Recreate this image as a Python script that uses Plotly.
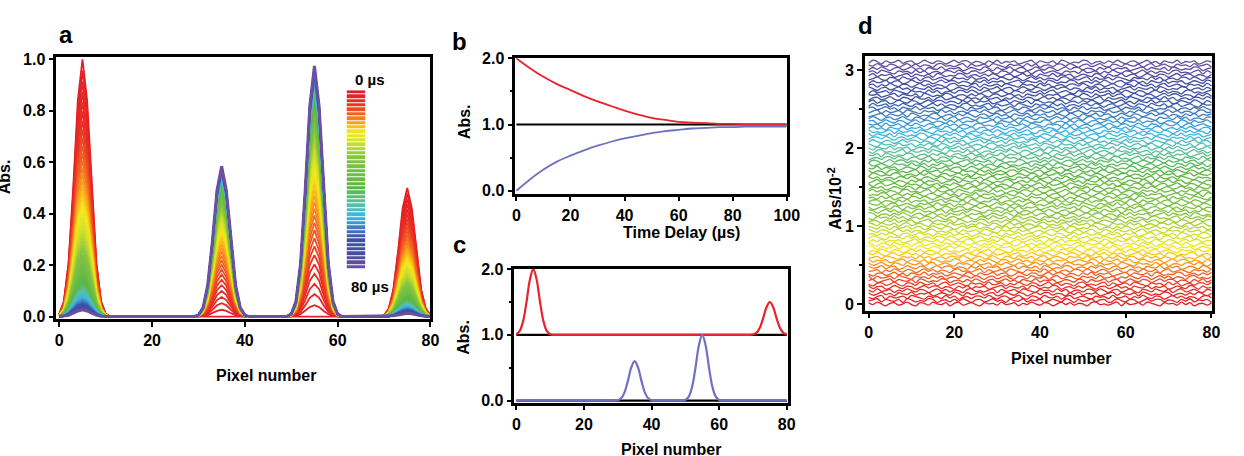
import numpy as np
import plotly.graph_objects as go
from plotly.colors import sample_colorscale

W, H = 1244, 456
FONT = "Liberation Sans"

# ---------------- data ----------------
pixel = list(range(81))
peak_centers = [5, 35, 55, 75]
amp_start = [1.0, 0.0, 0.0, 0.5]      # spectrum at 0 µs
amp_end = [0.0, 0.60, 1.0, 0.0]       # long-time spectrum
peak_profile = [0.01, 0.06, 0.21, 0.50, 0.84, 1.0, 0.84, 0.50, 0.21, 0.06, 0.01]  # offsets -5..5

a_times = list(range(0, 81))
a_decay = [1.000, 0.956, 0.913, 0.873, 0.834, 0.797, 0.761, 0.727, 0.695, 0.664,
           0.635, 0.607, 0.580, 0.554, 0.529, 0.506, 0.483, 0.462, 0.441, 0.422,
           0.403, 0.385, 0.368, 0.352, 0.336, 0.321, 0.307, 0.293, 0.280, 0.268,
           0.256, 0.244, 0.234, 0.223, 0.213, 0.204, 0.195, 0.186, 0.178, 0.170,
           0.162, 0.155, 0.148, 0.142, 0.135, 0.129, 0.124, 0.118, 0.113, 0.108,
           0.103, 0.098, 0.094, 0.090, 0.086, 0.082, 0.078, 0.075, 0.072, 0.068,
           0.065, 0.062, 0.060, 0.057, 0.055, 0.052, 0.050, 0.048, 0.045, 0.043,
           0.041, 0.040, 0.038, 0.036, 0.035, 0.033, 0.032, 0.030, 0.029, 0.027,
           0.026]
bar_times = [0, 2, 4, 6, 8, 10, 12, 14, 16, 18, 20, 22, 24, 26, 28, 30, 32, 34, 36, 38, 40,
             42, 44, 46, 48, 50, 52, 54, 56, 58, 60, 62, 64, 66, 68, 70, 72, 74, 76, 78, 80]

b_time = [0, 5, 10, 15, 20, 25, 30, 35, 40, 45, 50, 55, 60, 65, 70, 75, 80, 85, 90, 95, 100]
b_red = [2.00, 1.85, 1.72, 1.61, 1.52, 1.43, 1.35, 1.28, 1.21, 1.15, 1.10, 1.07, 1.04,
         1.03, 1.02, 1.01, 1.01, 1.00, 1.00, 1.00, 1.00]
b_blue = [0.00, 0.17, 0.32, 0.44, 0.53, 0.61, 0.68, 0.74, 0.79, 0.83, 0.87, 0.90, 0.92,
          0.94, 0.95, 0.96, 0.96, 0.97, 0.97, 0.97, 0.97]
b_ref = [1.0, 1.0]
b_ref_x = [0, 100]

c_red_base = 1.0
c_red_amps = [1.0, 0.0, 0.0, 0.5]
c_blue_amps = [0.0, 0.60, 1.0, 0.0]

d_noise = [0.02, -0.01, 0.03, 0.00, -0.03, 0.01, 0.02, -0.02, 0.00,
           0.03, -0.01, -0.03, 0.02, 0.01, -0.02, 0.03, 0.00, -0.01,
           0.02, -0.03, 0.01, 0.03, -0.02, 0.00, 0.02, -0.01, -0.03,
           0.02, 0.00, 0.01, -0.02, 0.03, -0.01, 0.00, 0.02, -0.03,
           0.01, -0.01, 0.03, 0.00, -0.02, 0.02, 0.01, -0.03, 0.00,
           0.03, -0.01, 0.02, -0.02, 0.01, 0.00, -0.03, 0.02, 0.03,
           -0.01, 0.00, -0.02, 0.01, 0.03, -0.03, 0.02, -0.01, 0.00,
           0.02, -0.02, 0.03, 0.01, -0.01, -0.03, 0.02, 0.00, 0.01,
           -0.02, 0.03, -0.01, 0.02, -0.03, 0.00, 0.01, -0.02, 0.02]
d_bottom, d_top, d_count = 0.0, 3.1, 74

rainbow = [[0.00, '#e41e26'], [0.07, '#ea2f25'], [0.14, '#f37021'], [0.19, '#fbb416'],
           [0.23, '#f7e817'], [0.29, '#cfe02a'], [0.37, '#86c441'], [0.55, '#5ab647'],
           [0.64, '#5cbfa4'], [0.71, '#3ab6e8'], [0.77, '#3b86c6'], [0.84, '#3c52a3'],
           [0.94, '#4a4ca0'], [1.00, '#6b4fa0']]
RED = '#e8232b'
BLUE = '#6e70c2'

# ---------------- helpers ----------------
px_arr = np.array(pixel)
prof = np.array(peak_profile)


def shape(center):
    out = np.zeros(len(px_arr))
    for i, p in enumerate(px_arr):
        d = p - center
        if abs(d) <= 5:
            out[i] = prof[d + 5]
    return out


shapes_by_peak = [shape(c) for c in peak_centers]


def px2x(x):
    return x / W


def px2y(y):
    return 1 - y / H


fig = go.Figure()

# ---------------- panel a ----------------
n_a = len(a_times)
cols_a = sample_colorscale(rainbow, [i / (n_a - 1) for i in range(n_a)])
for i, (t, f) in enumerate(zip(a_times, a_decay)):
    y = np.zeros(len(px_arr))
    for k in range(len(peak_centers)):
        y += (amp_start[k] * f + amp_end[k] * (1 - f)) * shapes_by_peak[k]
    w = 3.0 if i == n_a - 1 else 1.8
    fig.add_trace(go.Scatter(x=pixel, y=y, mode='lines', line=dict(color=cols_a[i], width=w),
                             xaxis='x', yaxis='y', showlegend=False, hoverinfo='skip'))

# colour bar of panel a
n_bar = len(bar_times)
fig.add_trace(go.Heatmap(x=[0], y=bar_times, z=[[i] for i in range(n_bar)], colorscale=rainbow,
                         zmin=0, zmax=n_bar - 1, showscale=False, ygap=1, xaxis='x5', yaxis='y5',
                         hoverinfo='skip'))

# ---------------- panel b ----------------
fig.add_trace(go.Scatter(x=b_ref_x, y=b_ref, mode='lines', line=dict(color='black', width=2),
                         xaxis='x2', yaxis='y2', showlegend=False))
fig.add_trace(go.Scatter(x=b_time, y=b_red, mode='lines', line=dict(color=RED, width=1.8, shape='spline'),
                         xaxis='x2', yaxis='y2', showlegend=False))
fig.add_trace(go.Scatter(x=b_time, y=b_blue, mode='lines', line=dict(color=BLUE, width=1.8, shape='spline'),
                         xaxis='x2', yaxis='y2', showlegend=False))

# ---------------- panel c ----------------
fig.add_trace(go.Scatter(x=[0, 80], y=[1.0, 1.0], mode='lines', line=dict(color='black', width=2.2),
                         xaxis='x3', yaxis='y3', showlegend=False))
fig.add_trace(go.Scatter(x=[0, 80], y=[0.0, 0.0], mode='lines', line=dict(color='black', width=2.2),
                         xaxis='x3', yaxis='y3', showlegend=False))
c_red = c_red_base + sum(a * s for a, s in zip(c_red_amps, shapes_by_peak))
c_blue = sum(a * s for a, s in zip(c_blue_amps, shapes_by_peak))
fig.add_trace(go.Scatter(x=pixel, y=c_red, mode='lines', line=dict(color=RED, width=2.2, shape='spline'),
                         xaxis='x3', yaxis='y3', showlegend=False))
fig.add_trace(go.Scatter(x=pixel, y=c_blue, mode='lines', line=dict(color=BLUE, width=2.2, shape='spline'),
                         xaxis='x3', yaxis='y3', showlegend=False))

# ---------------- panel d ----------------
levels = np.linspace(d_bottom, d_top, d_count)
cols_d = sample_colorscale(rainbow, [k / (d_count - 1) for k in range(d_count)])
noise = np.array(d_noise) * 0.8
for k, lev in enumerate(levels):
    nz = np.roll(noise, 13 * k)
    if k % 2:
        nz = nz[::-1]
    fig.add_trace(go.Scatter(x=pixel, y=lev + nz, mode='lines',
                             line=dict(color=cols_d[k], width=1.3, shape='spline', smoothing=1.0),
                             xaxis='x4', yaxis='y4', showlegend=False, hoverinfo='skip'))

# ---------------- axes ----------------
tickfont = dict(family=FONT, size=16, color='black', weight='bold')
common = dict(showline=True, linewidth=2.5, linecolor='black', mirror=True, ticks='outside',
              ticklen=5, tickwidth=2.2, tickcolor='black', showgrid=False, zeroline=False,
              tickfont=tickfont)
minor = dict(ticks='outside', ticklen=3, tickwidth=1.5, tickcolor='black', showgrid=False)

fig.update_layout(
    width=W, height=H, margin=dict(l=0, r=0, t=0, b=0),
    paper_bgcolor='white', plot_bgcolor='white',
    xaxis=dict(domain=[px2x(54), px2x(433)], range=[-0.64, 80], tickvals=[0, 20, 40, 60, 80],
               anchor='y', **common),
    yaxis=dict(domain=[px2y(322), px2y(51)], range=[-0.011, 1.0075],
               tickvals=[0, 0.2, 0.4, 0.6, 0.8, 1.0], tickformat='.1f', anchor='x', **common),
    xaxis2=dict(domain=[px2x(519), px2x(794)], range=[-0.4, 100], tickvals=[0, 20, 40, 60, 80, 100],
                anchor='y2', **common),
    yaxis2=dict(domain=[px2y(192), px2y(52)], range=[-0.044, 2.0], tickvals=[0, 1, 2],
                tickformat='.1f', anchor='x2', minor=dict(dtick=0.5, **minor), **common),
    xaxis3=dict(domain=[px2x(518), px2x(795)], range=[-0.6, 80.3], tickvals=[0, 20, 40, 60, 80],
                anchor='y3', **common),
    yaxis3=dict(domain=[px2y(408), px2y(270)], range=[-0.03, 2.0], tickvals=[0, 1, 2],
                tickformat='.1f', anchor='x3', minor=dict(dtick=0.5, **minor), **common),
    xaxis4=dict(domain=[px2x(873), px2x(1225)], range=[-0.9, 80.2], tickvals=[0, 20, 40, 60, 80],
                anchor='y4', **common),
    yaxis4=dict(domain=[px2y(313), px2y(50)], range=[-0.087, 3.174], tickvals=[0, 1, 2, 3],
                anchor='x4', minor=dict(dtick=0.5, **minor), **common),
    xaxis5=dict(domain=[px2x(348), px2x(367)], visible=False, anchor='y5', range=[-0.5, 0.5]),
    yaxis5=dict(domain=[px2y(270), px2y(85)], visible=False, anchor='x5', autorange='reversed'),
)


def ann(text, x, y, size=16, angle=0):
    fig.add_annotation(text=text, x=px2x(x), y=px2y(y), xref='paper', yref='paper',
                       showarrow=False, xanchor='center', yanchor='middle', textangle=angle,
                       font=dict(family=FONT, size=size, color='black', weight='bold'))


# panel letters
ann('a', 64, 27, 24)
ann('b', 462, 35, 24)
ann('c', 462, 245, 24)
ann('d', 874, 18, 24)

# axis titles
ann('Pixel number', 266, 380)
ann('Abs.', 1, 174, angle=-90)
ann('Time Delay (µs)', 687, 232)
ann('Abs.', 467, 117, angle=-90)
ann('Abs.', 467, 340, angle=-90)
ann('Pixel number', 677, 456)
ann('Pixel number', 1072, 362)
ann('Abs/10<sup>-2</sup>', 842, 197, angle=-90)

# colour bar labels
ann('0 µs', 372, 74, 15)
ann('80 µs', 372, 288, 15)

fig.write_html("out.html")
